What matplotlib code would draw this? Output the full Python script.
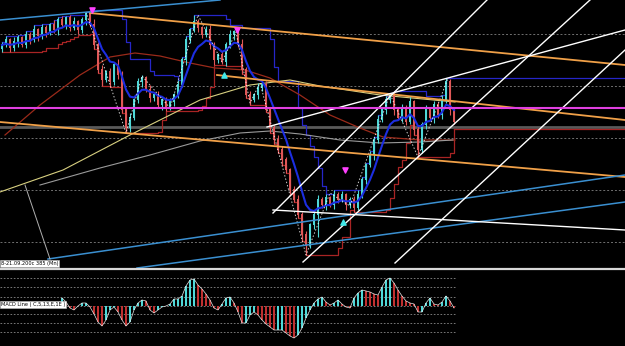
import numpy as np
import pandas as pd
import matplotlib
matplotlib.use("Agg")
import matplotlib.pyplot as plt
from matplotlib.lines import Line2D

# closes per bar (price units, 0 = bottom of the price pane)
closes = [223, 228, 220, 226, 230, 223, 233, 228, 238, 232,
          240, 235, 243, 238, 248, 243, 250, 240, 246, 238,
          248, 254, 243, 223, 198, 188, 196, 186, 203, 193,
          158, 140, 150, 168, 186, 190, 178, 170, 173, 163,
          168, 160, 166, 173, 183, 208, 228, 238, 246, 240,
          233, 238, 223, 208, 213, 206, 223, 233, 236, 223,
          198, 173, 168, 173, 180, 183, 158, 140, 128, 118,
          108, 98, 78, 68, 53, 33, 23, 43, 53, 68,
          63, 70, 63, 73, 68, 73, 63, 68, 60, 73,
          88, 103, 113, 128, 148, 158, 168, 172, 158, 150,
          160, 146, 166, 138, 118, 143, 158, 150, 163, 153,
          168, 186, 158, 146]
wick_hi = [3, 4, 2, 5, 3, 2, 4, 3, 5, 2,
           4, 3, 2, 5, 3, 4, 2, 3, 5, 2,
           3, 2, 4, 6, 3, 5, 2, 4, 3, 6,
           4, 3, 5, 2, 4, 3, 2, 5, 3, 4,
           2, 3, 4, 2, 5, 3, 4, 2, 7, 3,
           2, 4, 5, 3, 2, 4, 3, 5, 2, 4,
           6, 3, 4, 2, 5, 3, 4, 2, 3, 5,
           4, 3, 2, 4, 5, 3, 4, 2, 3, 5,
           3, 4, 2, 5, 3, 4, 2, 3, 4, 5,
           3, 2, 4, 3, 5, 2, 4, 3, 5, 2,
           4, 3, 6, 2, 4, 3, 5, 2, 4, 3,
           5, 4, 3, 2]
wick_lo = [3, 2, 4, 3, 5, 2, 3, 4, 2, 5,
           3, 4, 2, 3, 5, 2, 4, 3, 2, 4,
           3, 5, 2, 4, 3, 6, 2, 5, 3, 4,
           3, 5, 4, 2, 3, 5, 2, 4, 3, 2,
           5, 3, 2, 4, 3, 2, 5, 3, 2, 4,
           3, 2, 4, 5, 3, 2, 4, 3, 5, 2,
           4, 3, 5, 2, 4, 3, 2, 5, 4, 3,
           5, 3, 4, 2, 3, 6, 10, 3, 4, 22,
           3, 5, 2, 4, 3, 2, 5, 3, 4, 2,
           3, 4, 2, 5, 3, 2, 4, 3, 5, 2,
           4, 3, 2, 5, 7, 3, 4, 2, 5, 3,
           4, 3, 5, 2]

# MACD histogram, bars 15..113
macd_start = 15
macd = [8, 4, -2, -4, 0, 3, 3, -1, -8, -16,
        -20, -14, -4, -1, -6, -14, -20, -16, -4, 3,
        6, 5, -4, -7, -4, -1, 0, 2, 7, 7,
        10, 20, 26, 27, 21, 17, 12, 6, -2, -4,
        2, 8, 9, 3, -6, -17, -17, -9, -6, -9,
        -14, -18, -21, -24, -24, -24, -27, -30, -32, -29,
        -22, -12, -4, 3, 7, 9, 4, 1, 3, 6,
        2, -1, -2, 8, 13, 16, 15, 14, 12, 11,
        19, 26, 28, 23, 16, 10, 5, 3, 2, -6,
        -6, 3, 8, 2, 1, 4, 10, 5, -2]
macd_levels = [28, 19, 9, 0, -8, -17, -26]

# moving averages (bar, price)
ma_red_x = [0.75, 9.5, 19.5, 27, 33.25, 39.5, 47, 53.25, 60.75, 67, 74.5, 82, 89.5, 95.25, 104.5, 113.25]
ma_red_y = [133, 163, 193, 211, 215, 212, 205, 200, 198, 190, 173, 153, 140, 131, 128, 128]
ma_yel_x = [-0.5, 15.25, 32, 49.5, 62, 72, 79.5, 94.5, 113.25]
ma_yel_y = [76, 98, 133, 168, 183, 188, 182, 173, 166]
ma_gray_x = [9.5, 24.5, 37, 49.5, 59.5, 67, 74.5, 84.5, 94.5, 104.5, 112.75]
ma_gray_y = [83, 100, 113, 127, 135, 137, 134, 128, 125, 126, 128]

# zigzag pivots
zz_x = [21, 31, 35, 42, 49, 55, 58.5, 62, 64.5, 76, 82, 87, 97, 104, 111.5]
zz_y = [256, 135, 192, 160, 253, 206, 236, 165, 185, 13, 75, 62, 174, 111, 190]

# trend lines ((x0, y0), (x1, y1))
orange_lines = [((22, 255), (155.75, 203)),
                ((53.75, 193), (155.75, 148)),
                ((-0.5, 146), (155.75, 91))]
blue_lines = [((-0.5, 248), (54.5, 268)),
              ((11.5, 9), (155.75, 93)),
              ((33.75, 0), (155.75, 66))]
white_lines = [((66.25, 141), (155.75, 238)),
               ((67.75, 55), (121.25, 268)),
               ((75.25, 6), (147, 268)),
               ((98.25, 5), (155.75, 218)),
               ((67.75, 58), (155.75, 38))]
gray_link = ((5.75, 83), (12, 9))
magenta_level = 160
gray_level = 141
grid_levels = [26, 78, 130, 182, 234]

sell_x, sell_y = [22.5, 58.75, 85.75], [258, 238, 98]
buy_x, buy_y = [55.5, 85.25], [193, 46]

BG = "black"
BULL, BEAR = "#4fd8d8", "#e05858"
XMAX = 155.75

closes = np.array(closes, dtype=float)
n = len(closes)
x = np.arange(n)
opens = np.r_[closes[0] - 4, closes[:-1]]
highs = np.maximum(opens, closes) + np.array(wick_hi)
lows = np.minimum(opens, closes) - np.array(wick_lo)

fig = plt.figure(figsize=(6.25, 3.46), dpi=100, facecolor=BG)
ax = fig.add_axes([0, 78 / 346, 1, 268 / 346], facecolor=BG)
ax2 = fig.add_axes([0, 0, 1, 76 / 346], facecolor=BG, sharex=ax)

for a in (ax, ax2):
    for s in a.spines.values():
        s.set_visible(False)
    a.tick_params(left=False, bottom=False, labelleft=False, labelbottom=False)

ax.set_xlim(-0.5, XMAX)
ax.set_ylim(0, 268)

for g in grid_levels:
    ax.axhline(g, color="#707070", lw=0.7, ls=(0, (2, 2)), zorder=0)

ax.axhline(gray_level, color="#5a5a5a", lw=2, zorder=1)
ax.axhline(magenta_level, color="#e040e0", lw=1.5, zorder=6)

# box channel (highest high / lowest low)
hs = pd.Series(highs).rolling(8, min_periods=1).max()
ls_ = pd.Series(lows).rolling(8, min_periods=1).min()
ax.step(x, hs, where="post", color="#2626c8", lw=0.9, zorder=2)
ax.step(x, ls_, where="post", color="#a82424", lw=0.9, zorder=2)
ax.plot([x[-1], XMAX], [hs.iloc[-1]] * 2, color="#2626c8", lw=0.9, zorder=2)
ax.plot([x[-1], XMAX], [ls_.iloc[-1]] * 2, color="#a82424", lw=0.9, zorder=2)

ax.plot(ma_red_x, ma_red_y, color="#9a2a1a", lw=0.9, zorder=2)
ax.plot(ma_yel_x, ma_yel_y, color="#d8d080", lw=0.8, zorder=2)
ax.plot(ma_gray_x, ma_gray_y, color="#9a9a9a", lw=0.8, zorder=2)

# candles
cols = [BULL if c >= o else BEAR for o, c in zip(opens, closes)]
ax.vlines(x, lows, highs, colors=cols, lw=0.8, zorder=3)
ax.bar(x, np.abs(closes - opens) + 0.8, bottom=np.minimum(opens, closes), width=0.5,
       color=cols, zorder=3)

ema = pd.Series(closes).ewm(span=7, adjust=False).mean()
ax.plot(x, ema, color="#1c2ee0", lw=1.5, zorder=4)
ax.plot(zz_x, zz_y, color="white", lw=0.7, ls=(0, (1.5, 2)), alpha=0.8, zorder=4)

for (p0, p1) in orange_lines:
    ax.plot([p0[0], p1[0]], [p0[1], p1[1]], color="#f0a048", lw=1.3, zorder=5)
for (p0, p1) in blue_lines:
    ax.plot([p0[0], p1[0]], [p0[1], p1[1]], color="#3a8fd0", lw=1.1, zorder=5)
for (p0, p1) in white_lines:
    ax.plot([p0[0], p1[0]], [p0[1], p1[1]], color="white", lw=1.0, zorder=5)
ax.plot([gray_link[0][0], gray_link[1][0]], [gray_link[0][1], gray_link[1][1]],
        color="#b0b0b0", lw=0.7, zorder=5)

ax.scatter(sell_x, sell_y, marker="v", s=14, color="#ff40ff", zorder=7)
ax.scatter(buy_x, buy_y, marker="^", s=14, color="#40e8e8", zorder=7)

ax.text(0.001, 0.006, "8-21.09.200c 385 (Mn)", transform=ax.transAxes, fontsize=3.6,
        color="black", va="bottom", ha="left",
        bbox=dict(facecolor="white", edgecolor="#c0c0c0", pad=0.8, lw=0.4), zorder=8)

fig.add_artist(Line2D([0, 1], [77.5 / 346] * 2, color="#d8d8d8", lw=1.6,
                      transform=fig.transFigure))

# MACD pane
ax2.set_ylim(-40, 36)
for lv in macd_levels:
    ax2.plot([-0.5, 113.5], [lv, lv], color="#8a8a8a", lw=0.6, ls=(0, (2, 2)), zorder=0)
mx = np.arange(macd_start, macd_start + len(macd))
mv = np.array(macd, dtype=float)
mcol = [BULL if (i == 0 or mv[i] >= mv[i - 1]) else "#c03030" for i in range(len(mv))]
ax2.bar(mx, mv, width=0.55, color=mcol, zorder=2)
ax2.plot(mx, mv, color="#e8e8e8", lw=0.5, zorder=3)
ax2.text(0.001, 0.546, "MACD Line ( C,5,13,E,1E )", transform=ax2.transAxes, fontsize=3.6,
         color="black", va="center", ha="left",
         bbox=dict(facecolor="white", edgecolor="#c0c0c0", pad=0.8, lw=0.4), zorder=8)

fig.savefig("out.png", dpi=100, facecolor=BG)
